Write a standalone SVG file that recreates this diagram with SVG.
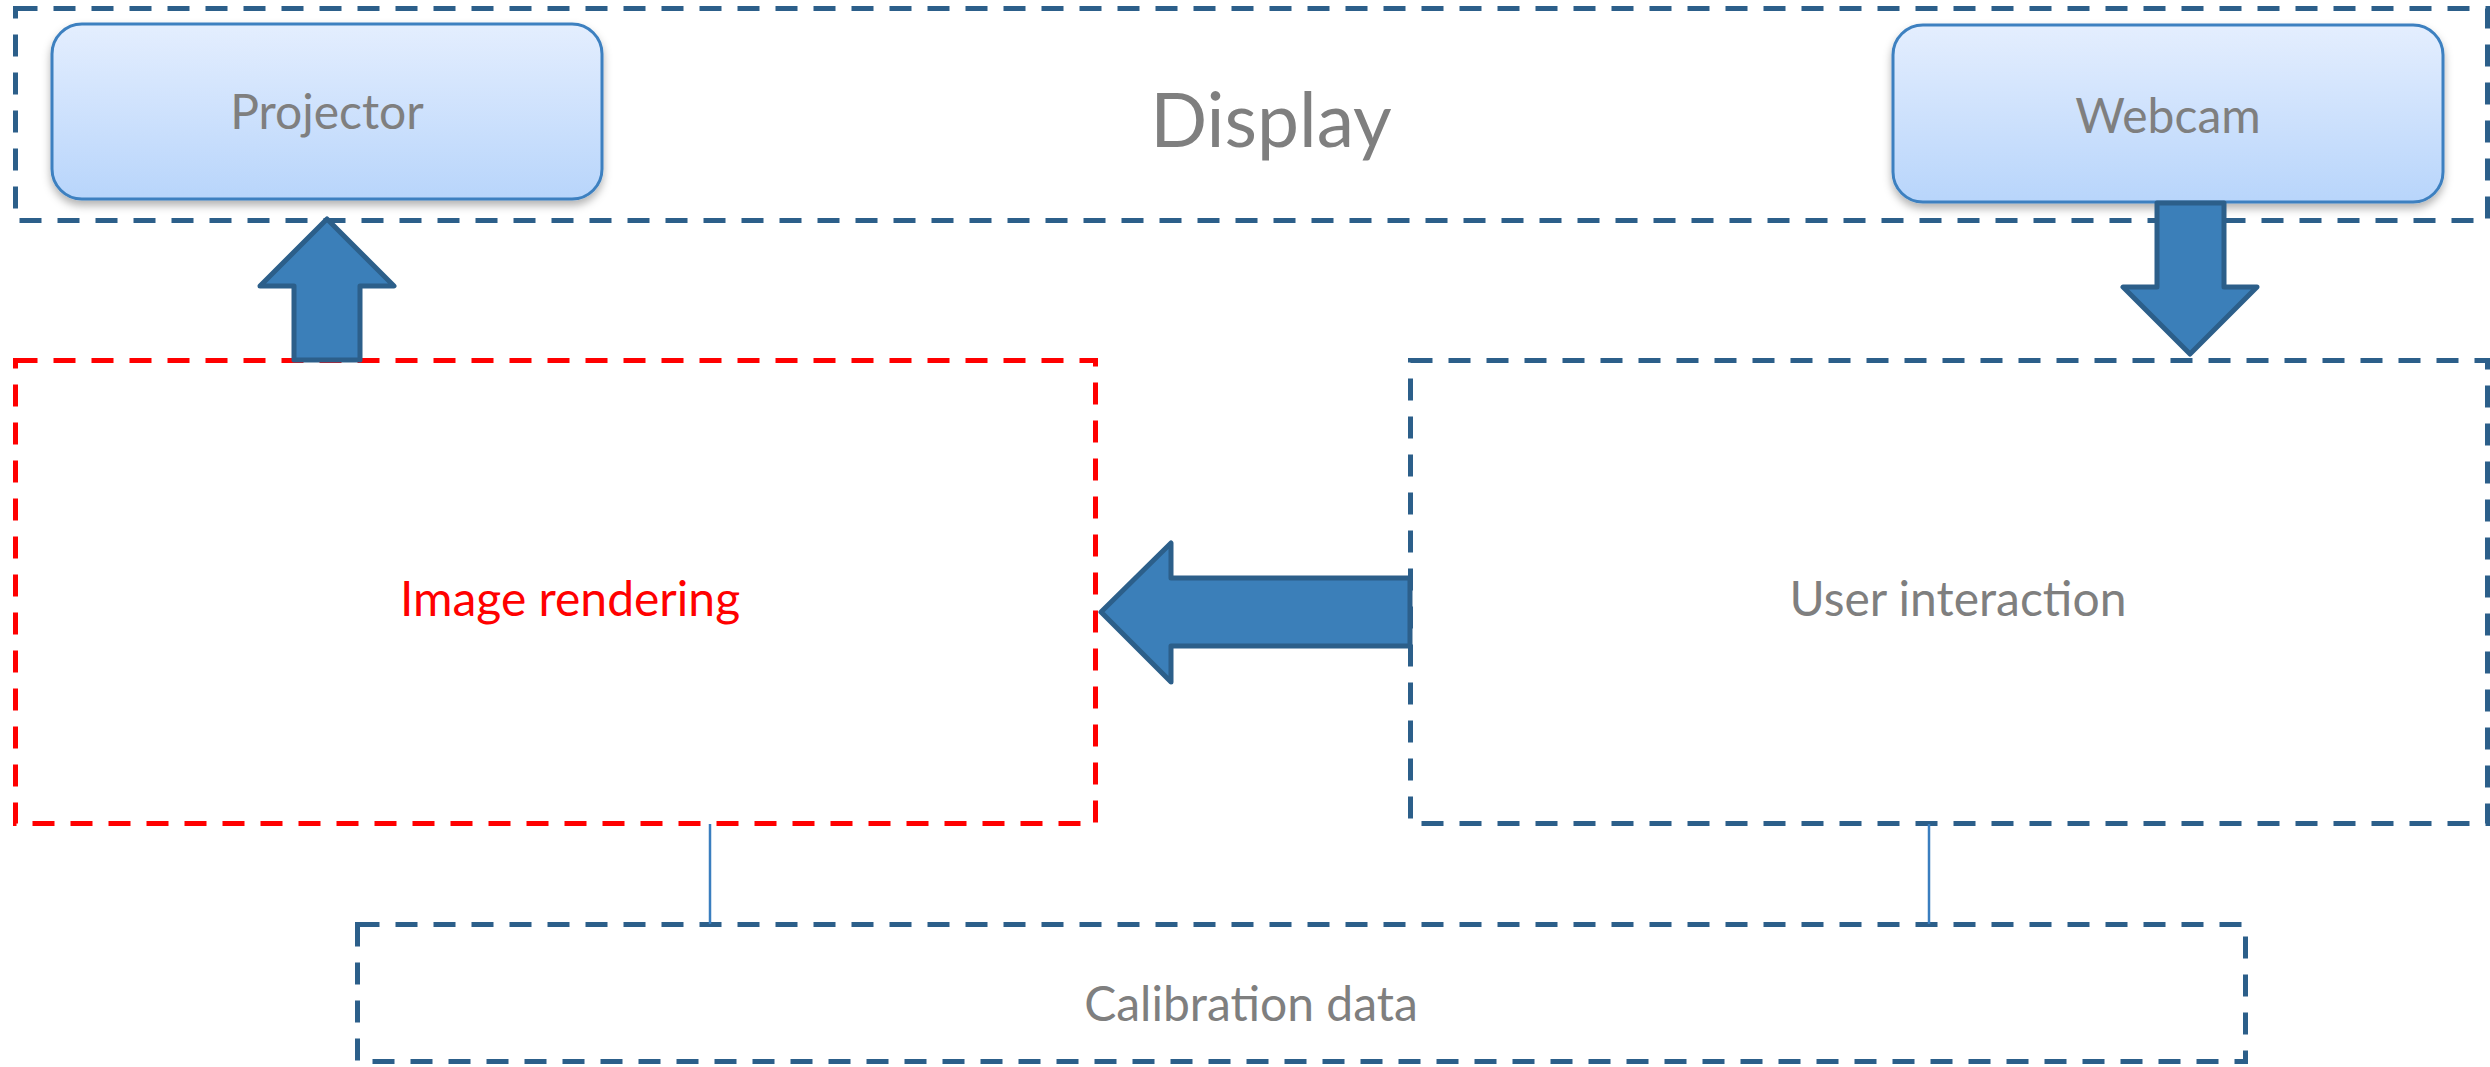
<svg xmlns="http://www.w3.org/2000/svg" width="2490" height="1067" viewBox="0 0 2490 1067">
  <style>
    .dash-blue { fill: none; stroke: #2c5f8a; stroke-width: 5; stroke-dasharray: 22 16; }
    .dash-red { fill: none; stroke: #ff0000; stroke-width: 5; stroke-dasharray: 22 16; }
    .pill { fill: url(#pillGrad); stroke: #3d80c0; stroke-width: 3; filter: url(#shadow); }
    .arrow { fill: #3b7fb9; stroke: #2c5f8a; stroke-width: 5; stroke-linejoin: round; }
    .label { font-family: Lato, "Liberation Sans", sans-serif; fill: #7f7f7f; text-anchor: middle; }
    .conn { stroke: #3a7ebf; stroke-width: 2.5; fill: none; }
  </style>
  <defs>
    <linearGradient id="pillGrad" x1="0" y1="0" x2="0" y2="1">
      <stop offset="0" stop-color="#e4eefe"/>
      <stop offset="1" stop-color="#b8d5fb"/>
    </linearGradient>
    <filter id="shadow" x="-10%" y="-10%" width="120%" height="130%">
      <feDropShadow dx="0" dy="5" stdDeviation="4" flood-color="#000" flood-opacity="0.3"/>
    </filter>
  </defs>

  <rect width="2490" height="1067" fill="#ffffff"/>

  <g id="display">
    <rect class="dash-blue" x="15.5" y="8.5" width="2472" height="212"/>
    <text class="label" x="1271" y="147" font-size="75">Display</text>
  </g>

  <g id="projector">
    <rect class="pill" x="52" y="24" width="550" height="175" rx="30" ry="30"/>
    <text class="label" x="327" y="129" font-size="48">Projector</text>
  </g>

  <g id="webcam">
    <rect class="pill" x="1893" y="25" width="550" height="177" rx="30" ry="30"/>
    <text class="label" x="2168" y="133" font-size="48">Webcam</text>
  </g>

  <g id="image-rendering">
    <rect class="dash-red" x="15.5" y="360.5" width="1080" height="463"/>
    <text class="label" x="570" y="616" font-size="48" style="fill:#ff0000">Image rendering</text>
  </g>

  <g id="user-interaction">
    <rect class="dash-blue" x="1410.5" y="360.5" width="1077" height="463"/>
    <text class="label" x="1958" y="616" font-size="48">User interaction</text>
  </g>

  <g id="calibration-data">
    <rect class="dash-blue" x="357.5" y="924.5" width="1888" height="137"/>
    <text class="label" x="1251" y="1021" font-size="48">Calibration data</text>
  </g>

  <g id="connectors">
    <polygon class="arrow" points="327,219 394,286 360,286 360,360 294,360 294,286 260,286"/>
    <polygon class="arrow" points="2157,203 2224,203 2224,287 2257,287 2190,354 2123,287 2157,287"/>
    <polygon class="arrow" points="1101,612 1171,543 1171,578 1410,578 1410,646 1171,646 1171,682"/>
    <line class="conn" x1="710" y1="824" x2="710" y2="924"/>
    <line class="conn" x1="1929" y1="824" x2="1929" y2="924"/>
  </g>
</svg>
